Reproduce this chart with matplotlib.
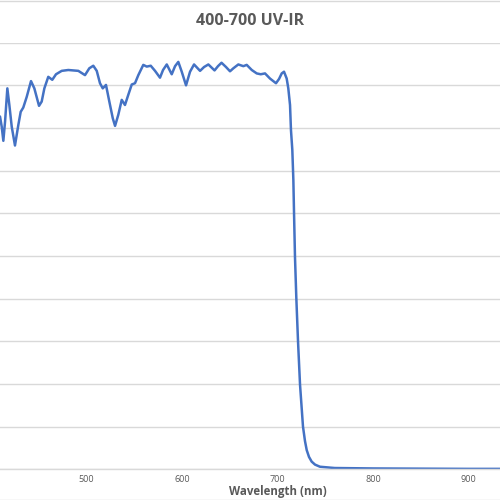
import numpy as np
import matplotlib
matplotlib.use('Agg')
import matplotlib.pyplot as plt
from matplotlib.lines import Line2D

# transmission curve (wavelength nm, transmission %)
wl = [409.1, 410.9, 412.6, 414.4, 416.8, 418.9, 421.4, 424.8, 428.3, 430.8,
      433.5, 437.1, 441.6, 445.1, 450.0, 452.8, 455.6, 459.7, 463.9, 467.8,
      473.8, 480.7, 491.2, 498.2, 502.7, 506.9, 510.5, 513.9, 516.8, 520.2,
      523.7, 527.3, 529.7, 533.1, 536.7, 540.1, 543.6, 547.2, 550.6, 554.1,
      559.3, 562.9, 567.1, 571.6, 576.8, 580.0, 583.9, 589.1, 592.6, 596.0,
      599.6, 604.1, 608.3, 612.5, 618.8, 623.0, 627.5, 634.0, 637.6, 641.3,
      646.0, 650.2, 653.7, 658.9, 664.2, 667.7, 673.0, 678.2, 682.4, 686.9,
      692.1, 698.4, 701.6, 704.4, 706.8, 709.6, 711.3, 713.1, 714.1, 715.5,
      716.6, 717.3, 718.3, 719.7, 721.5, 723.6, 726.7, 728.8, 730.6, 733.0,
      735.8, 739.3, 744.5, 760.0, 800.0, 850.0, 900.0, 935.0]
trans = [82.7, 80.3, 77.0, 81.5, 89.3, 85.4, 80.3, 75.9, 80.7, 83.8,
         84.8, 87.3, 91.0, 89.3, 85.2, 86.2, 89.3, 92.0, 91.3, 92.6,
         93.4, 93.6, 93.4, 92.4, 94.0, 94.6, 93.4, 90.5, 89.3, 90.1,
         86.2, 82.3, 80.5, 83.1, 86.6, 85.4, 87.8, 90.2, 90.5, 92.4,
         94.8, 94.4, 94.6, 93.4, 91.8, 93.6, 94.9, 92.6, 94.5, 95.5,
         93.2, 90.0, 93.2, 94.9, 93.4, 94.3, 94.9, 93.5, 94.5, 95.3,
         94.3, 93.3, 94.0, 94.9, 94.5, 94.8, 93.6, 92.8, 92.6, 92.8,
         91.6, 90.5, 91.5, 92.8, 93.2, 91.6, 89.3, 85.4, 79.5, 74.9,
         67.8, 60.1, 49.8, 40.2, 29.9, 19.8, 10.0, 6.6, 4.5, 2.9,
         1.8, 1.1, 0.6, 0.3, 0.2, 0.15, 0.1, 0.1]
xticks = [500, 600, 700, 800, 900]

fig = plt.figure(figsize=(5, 5), dpi=100)
ax = fig.add_axes([0, 0.0614, 1, 0.8532])

ax.plot(wl, trans, color='#4472C4', lw=1.8, solid_joinstyle='round',
        solid_capstyle='round')

ax.set_xlim(409.1, 933.2)
ax.set_ylim(0, 100)
ax.set_yticks(np.arange(0, 101, 10))
ax.set_yticklabels([])
ax.set_xticks(xticks)
ax.set_xticklabels([str(t) for t in xticks], fontsize=6.5, color='#595959',
                   family='Open Sans')
ax.tick_params(axis='both', length=0, pad=4)
ax.grid(axis='y', color='#d9d9d9', lw=1)
ax.set_axisbelow(True)
for s in ['left', 'right', 'top']:
    ax.spines[s].set_visible(False)
ax.spines['bottom'].set_color('#d9d9d9')
ax.spines['bottom'].set_linewidth(1)

fig.text(0.5, 0.958, '400-700 UV-IR', ha='center', va='center', fontsize=11.5,
         fontweight='bold', color='#595959', family='Open Sans')
fig.text(0.555, 0.017, 'Wavelength (nm)', ha='center', va='center', fontsize=8.3,
         fontweight='bold', color='#595959', family='Open Sans')

# chart border pieces visible at top and bottom
fig.add_artist(Line2D([0, 1], [0.999, 0.999], color='#d9d9d9', lw=1))
fig.add_artist(Line2D([0, 1], [0.001, 0.001], color='#d9d9d9', lw=1))

fig.savefig('out.png', dpi=100)
